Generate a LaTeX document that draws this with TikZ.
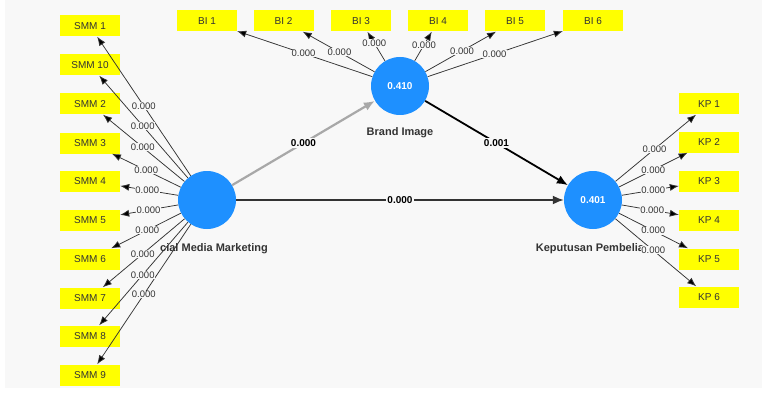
\documentclass[tikz,border=0pt]{standalone}
\usepackage{fontspec}
\setmainfont{Liberation Sans}
\usetikzlibrary{arrows.meta,calc}
\definecolor{bg}{HTML}{F8F8F8}
\definecolor{lvblue}{HTML}{1E90FF}
\definecolor{mvyellow}{HTML}{FFFF00}
\definecolor{txt}{HTML}{333333}
\definecolor{pathgray}{HTML}{A8A8A8}
\begin{document}
\begin{tikzpicture}[x=1pt,y=-1pt,
  mv/.style={rectangle, fill=mvyellow, minimum width=60pt, minimum height=21pt, inner sep=0pt, font=\fontsize{10}{12}\selectfont, text=txt},
  lv/.style={circle, fill=lvblue, minimum size=58pt, inner sep=0pt, font=\bfseries\fontsize{10}{12}\selectfont, text=white},
  lvname/.style={font=\bfseries\fontsize{11}{13}\selectfont, text=txt, inner sep=0pt},
  load/.style={draw=txt, line width=0.75pt, -{Latex[length=9pt,width=7pt,fill=black]}},
  ldlabel/.style={fill=bg, inner sep=0.6pt, font=\fontsize{9.5}{10}\selectfont, text=txt},
  pathlab/.style={fill=bg, inner sep=1.2pt, font=\bfseries\fontsize{10}{12}\selectfont, text=black},
  structarrow/.style={line width=1.8pt, -{Latex[length=11pt,width=9pt]}}
]
\useasboundingbox (0,0) rectangle (762,393);
\fill[white] (0,0) rectangle (762,393);
\fill[bg] (5,0) rectangle (762,388);

% latent variables
\node[lv] (smmc) at (207,200) {};
\node[lv] (bic) at (400,86) {0.410};
\node[lv] (kpc) at (593,200) {0.401};

% indicators SMM
\node[mv] (smm1) at (90,26) {SMM 1};
\node[mv] (smm10) at (90,65) {SMM 10};
\node[mv] (smm2) at (90,104) {SMM 2};
\node[mv] (smm3) at (90,143) {SMM 3};
\node[mv] (smm4) at (90,181) {SMM 4};
\node[mv] (smm5) at (90,220) {SMM 5};
\node[mv] (smm6) at (90,259) {SMM 6};
\node[mv] (smm7) at (90,298) {SMM 7};
\node[mv] (smm8) at (90,336) {SMM 8};
\node[mv] (smm9) at (90,375) {SMM 9};

% indicators BI
\node[mv] (bi1) at (207,21) {BI 1};
\node[mv] (bi2) at (283.5,21) {BI 2};
\node[mv] (bi3) at (361,21) {BI 3};
\node[mv] (bi4) at (438,21) {BI 4};
\node[mv] (bi5) at (515,21) {BI 5};
\node[mv] (bi6) at (593,21) {BI 6};

% indicators KP
\node[mv] (kp1) at (709,104) {KP 1};
\node[mv] (kp2) at (709,142) {KP 2};
\node[mv] (kp3) at (709,181) {KP 3};
\node[mv] (kp4) at (709,220) {KP 4};
\node[mv] (kp5) at (709,259) {KP 5};
\node[mv] (kp6) at (709,297) {KP 6};

% names of latent variables
\node[lvname] (smmname) at (214,249) {cial Media Marketing};
\node[lvname] (biname) at (400,133) {Brand Image};
\node[lvname] (kpname) at (590,249) {Keputusan Pembelia};

% outer loadings
\foreach \i in {1,10,2,3,4,5,6,7,8,9} \draw[load] (smmc) -- (smm\i);
\foreach \i in {1,...,6} \draw[load] (bic) -- (bi\i);
\foreach \i in {1,...,6} \draw[load] (kpc) -- (kp\i);

% loading labels SMM
\node[ldlabel] (ls1) at ($(smmc)!0.54!(smm1)$) {0.000};
\node[ldlabel] (ls10) at ($(smmc)!0.55!(smm10)$) {0.000};
\node[ldlabel] (ls2) at ($(smmc)!0.55!(smm2)$) {0.000};
\node[ldlabel] (ls3) at ($(smmc)!0.52!(smm3)$) {0.000};
\node[ldlabel] (ls4) at ($(smmc)!0.51!(smm4)$) {0.000};
\node[ldlabel] (ls5) at ($(smmc)!0.50!(smm5)$) {0.000};
\node[ldlabel] (ls6) at ($(smmc)!0.51!(smm6)$) {0.000};
\node[ldlabel] (ls7) at ($(smmc)!0.55!(smm7)$) {0.000};
\node[ldlabel] (ls8) at ($(smmc)!0.55!(smm8)$) {0.000};
\node[ldlabel] (ls9) at ($(smmc)!0.54!(smm9)$) {0.000};

% loading labels BI
\node[ldlabel] (lb1) at ($(bic)!0.50!(bi1)$) {0.000};
\node[ldlabel] (lb2) at ($(bic)!0.52!(bi2)$) {0.000};
\node[ldlabel] (lb3) at ($(bic)!0.66!(bi3)$) {0.000};
\node[ldlabel] (lb4) at ($(bic)!0.63!(bi4)$) {0.000};
\node[ldlabel] (lb5) at ($(bic)!0.54!(bi5)$) {0.000};
\node[ldlabel] (lb6) at ($(bic)!0.49!(bi6)$) {0.000};

% loading labels KP
\node[ldlabel] (lk1) at ($(kpc)!0.53!(kp1)$) {0.000};
\node[ldlabel] (lk2) at ($(kpc)!0.52!(kp2)$) {0.000};
\node[ldlabel] (lk3) at ($(kpc)!0.52!(kp3)$) {0.000};
\node[ldlabel] (lk4) at ($(kpc)!0.51!(kp4)$) {0.000};
\node[ldlabel] (lk5) at ($(kpc)!0.52!(kp5)$) {0.000};
\node[ldlabel] (lk6) at ($(kpc)!0.52!(kp6)$) {0.000};

% structural paths
\draw[structarrow, draw=pathgray, line width=2.2pt] (smmc) -- node[pathlab] (p1) {0.000} (bic);
\draw[structarrow, draw=black] (bic) -- node[pathlab] (p2) {0.001} (kpc);
\draw[structarrow, draw=txt] (smmc) -- node[pathlab] (p3) {0.000} (kpc);
\end{tikzpicture}
\end{document}
